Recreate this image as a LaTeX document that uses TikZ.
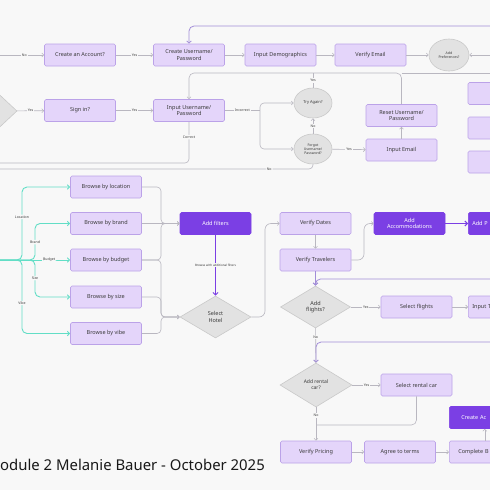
\documentclass[tikz,border=0pt]{standalone}
\usepackage{fontspec}
\setmainfont{Noto Sans}
\usetikzlibrary{arrows.meta,shapes.geometric}
\definecolor{bg}{HTML}{F8F8F8}
\definecolor{lbox}{HTML}{E4D5FA}
\definecolor{lboxb}{HTML}{BBA2E8}
\definecolor{dbox}{HTML}{7B3FE4}
\definecolor{gshape}{HTML}{E2E2E2}
\definecolor{gshapeb}{HTML}{C9C9C9}
\definecolor{conn}{HTML}{B9B7C0}
\definecolor{pconn}{HTML}{A28DD8}
\definecolor{tealc}{HTML}{62DEC6}
\definecolor{txt}{HTML}{3A3A3A}
\begin{document}
\begin{tikzpicture}[x=1pt,y=-1pt,
  lb/.style={draw=lboxb, fill=lbox, line width=0.6pt, rounded corners=1.5pt,
    minimum width=71pt, minimum height=22pt, inner sep=0pt,
    font=\fontsize{5.5}{6.5}\selectfont, text=txt, align=center},
  db/.style={lb, draw=dbox, fill=dbox, text=white},
  cutb/.style={anchor=west, inner xsep=#1, text width=71pt-2*#1, align=left, inner ysep=0pt},
  gd/.style={diamond, draw=gshapeb, fill=gshape, line width=0.6pt, inner sep=0pt,
    font=\fontsize{5.5}{6.5}\selectfont, text=txt, align=center},
  ge/.style={ellipse, draw=gshapeb, fill=gshape, line width=0.6pt, inner sep=0pt,
    minimum width=38pt, minimum height=30pt,
    font=\fontsize{3.5}{4.2}\selectfont, text=txt, align=center},
  lab/.style={fill=bg, font=\fontsize{3.5}{4}\selectfont, text=txt, inner sep=1pt},
  ar/.style={draw=conn, line width=0.6pt, -{Straight Barb[length=2pt,width=4pt]}},
  ln/.style={draw=conn, line width=0.6pt},
  par/.style={draw=pconn, line width=0.8pt, -{Straight Barb[length=2.2pt,width=4.5pt]}},
  dar/.style={draw=dbox, line width=1pt, -{Straight Barb[length=2.5pt,width=5pt]}},
  tar/.style={draw=tealc, line width=0.9pt, rounded corners=5pt, -{Straight Barb[length=2.2pt,width=4.5pt]}}
]
\useasboundingbox (0,0) rectangle (490,490);
\fill[bg] (0,0) rectangle (490,490);
\clip (0,0) rectangle (490,490);

% ---------- row 1
\node[lb] (acct) at (80,55) {Create an Account?};
\node[lb] (cuser) at (189,55) {Create Username/\\Password};
\node[lb] (demo) at (280.5,55) {Input Demographics};
\node[lb] (vemail) at (370.5,55) {Verify Email};
\node[ge] (pref) at (449,55) [minimum width=40pt, minimum height=32pt] {Add\\Preferences?};
\coordinate (in1) at (0,55);
\coordinate (in2) at (490,55);
\coordinate (top1) at (490,26);
\coordinate (topc) at (189,26);
\draw[ar] (in1) -- node[lab,pos=0.55]{No} (acct);
\draw[ar] (acct) -- node[lab]{Yes} (cuser);
\draw[ar] (cuser) -- (demo);
\draw[ar] (demo) -- (vemail);
\draw[ar] (vemail) -- (pref);
\draw[ar] (in2) -- (pref);
\draw[par, rounded corners=5pt] (top1) -- (topc) -- (cuser.north);

% ---------- row 2
\node[gd, minimum width=60pt, minimum height=56pt] (ldiam) at (-13,111) {};
\node[lb] (signin) at (80,110.5) {Sign in?};
\node[lb] (iuser) at (189,110.5) {Input Username/\\Password};
\node[ge, font=\fontsize{4}{4.5}\selectfont] (tryag) at (313,103) {Try Again?};
\node[ge] (forgot) at (313,149) {Forgot\\Username/\\Password?};
\node[lb] (iemail) at (401.5,150) {Input Email};
\node[lb] (reset) at (401.5,115.5) {Reset Username/\\Password};
\node[lb] (rb1) at (503.5,93.5) {};
\node[lb] (rb2) at (503.5,128) {};
\node[lb] (rb3) at (503.5,162) {};
\coordinate (inc) at (260,110.5);
\coordinate (rsc) at (401.5,73);
\coordinate (iuc) at (189,73);
\coordinate (tac) at (313,73);
\coordinate (rline) at (490,73);
\coordinate (cor1) at (189,163);
\coordinate (cor2) at (0,163);
\coordinate (no1) at (313,169);
\coordinate (no2) at (0,169);
\draw[ar] (ldiam) -- node[lab]{Yes} (signin);
\draw[ar] (signin) -- node[lab]{Yes} (iuser);
\draw[ln] (iuser) -- node[lab,pos=0.5]{Incorrect} (inc);
\draw[ar, rounded corners=4pt] (inc) |- (tryag.west);
\draw[ar, rounded corners=4pt] (inc) |- (forgot.west);
\draw[ar] (forgot) -- node[lab]{No} (tryag);
\draw[ln] (tryag.north) -- node[lab]{Yes} (tac);
\draw[ar, rounded corners=5pt] (reset.north) -- (rsc) -- (iuc) -- (iuser.north);
\draw[ln] (rsc) -- (rline);
\draw[ar] (forgot) -- node[lab]{Yes} (iemail);
\draw[ar] (iemail) -- (reset);
\draw[ln, rounded corners=4pt] (forgot.south) -- (no1) -- node[lab,pos=0.14]{No} (no2);
\draw[ln, rounded corners=4pt] (iuser.south) -- node[lab,pos=0.37]{Correct} (cor1) -- (cor2);

% ---------- browse
\node[lb] (bloc) at (106,187) {Browse by location};
\node[lb] (bbrand) at (106,223.5) {Browse by brand};
\node[lb] (bbud) at (106,260) {Browse by budget};
\node[lb] (bsize) at (106,297) {Browse by size};
\node[lb] (bvibe) at (106,333.5) {Browse by vibe};
\coordinate (tin) at (0,260);
\coordinate (t1) at (22,260);
\coordinate (t1a) at (22,187);
\coordinate (t1b) at (22,333.5);
\coordinate (t2) at (35,260);
\coordinate (t2a) at (35,223.5);
\coordinate (t2b) at (35,297);
\draw[tar] (tin) -- (t1) -- node[lab,pos=0.59]{Location} (t1a) -- (bloc.west);
\draw[tar] (tin) -- (t1) -- node[lab,pos=0.585]{Vibe} (t1b) -- (bvibe.west);
\draw[tar] (tin) -- (t2) -- node[lab,pos=0.49]{Brand} (t2a) -- (bbrand.west);
\draw[tar] (tin) -- (t2) -- node[lab,pos=0.49]{Size} (t2b) -- (bsize.west);
\draw[tar] (tin) -- node[lab,pos=0.7]{Budget} (bbud.west);

\node[db] (filters) at (215.5,223.5) {Add filters};
\node[gd, minimum width=71pt, minimum height=42pt] (hotel) at (215.5,317) {Select\\Hotel};
\coordinate (m1) at (161,187);
\coordinate (m2) at (161,223.5);
\coordinate (m3) at (161,260);
\coordinate (m4) at (161,297);
\coordinate (m5) at (161,317);
\coordinate (m6) at (161,333.5);
\draw[ar, rounded corners=4pt] (bloc.east) -- (m1) -- (m2) -- (filters.west);
\draw[ar] (bbrand) -- (filters);
\draw[ar, rounded corners=4pt] (bbud.east) -- (m3) -- (m2) -- (filters.west);
\draw[ar, rounded corners=4pt] (bbud.east) -- (m3) -- (m5) -- (hotel.west);
\draw[ar, rounded corners=4pt] (bsize.east) -- (m4) -- (m5) -- (hotel.west);
\draw[ar, rounded corners=4pt] (bvibe.east) -- (m6) -- (m5) -- (hotel.west);
\draw[dar] (filters) -- node[lab, font=\fontsize{3}{3.5}\selectfont]{Browse with additional filters} (hotel);

\node[lb] (vdates) at (315.5,223.5) {Verify Dates};
\node[lb] (vtrav) at (315.5,260) {Verify Travelers};
\node[db] (accom) at (409.5,223.5) {Add\\Accommodations};
\node[db, cutb=4pt] (addp) at (468,223.5) {Add P};
\coordinate (h1) at (265,317);
\coordinate (h2) at (265,223.5);
\coordinate (v1) at (364,260);
\coordinate (v2) at (364,223.5);
\draw[ar, rounded corners=6pt] (hotel.east) -- (h1) -- (h2) -- (vdates.west);
\draw[ar] (vdates) -- (vtrav);
\draw[ar, rounded corners=6pt] (vtrav.east) -- (v1) -- (v2) -- (accom.west);
\draw[dar] (accom) -- (addp);

% ---------- flights
\node[gd, minimum width=70pt, minimum height=42pt] (flights) at (315.5,307) {Add\\flights?};
\node[lb] (selfl) at (416.5,307) {Select flights};
\node[lb, cutb=4pt] (inputt) at (468,307) {Input T};
\coordinate (lane1) at (490,279);
\coordinate (lane1c) at (315.5,279);
\draw[par] (vtrav) -- (flights);
\draw[par, rounded corners=5pt] (lane1) -- (lane1c) -- (flights.north);
\draw[ar] (flights) -- node[lab]{Yes} (selfl);
\draw[ar] (selfl) -- (inputt);

% ---------- rental
\node[gd, minimum width=72pt, minimum height=44pt, font=\fontsize{5}{6}\selectfont] (rental) at (316,385) {Add rental\\car?};
\node[lb] (selrent) at (416.5,385) {Select rental car};
\coordinate (lane2) at (490,342);
\coordinate (lane2c) at (316,342);
\coordinate (sr1) at (416.5,425);
\coordinate (sr2) at (316,425);
\draw[ar] (flights) -- node[lab,pos=0.26]{No} (rental);
\draw[par, rounded corners=5pt] (lane2) -- (lane2c) -- (rental.north);
\draw[ar] (rental) -- node[lab]{Yes} (selrent);
\draw[ln, rounded corners=5pt] (selrent.south) -- (sr1) -- (sr2);

% ---------- bottom row
\node[lb] (vprice) at (316,452) {Verify Pricing};
\node[lb] (agree) at (400,452) {Agree to terms};
\node[lb, cutb=9pt] (complete) at (449,452) {Complete B};
\node[db, cutb=12pt] (createac) at (449,417.5) {Create Ac};
\draw[ar] (rental) -- node[lab,pos=0.24]{No} (vprice);
\draw[ar] (vprice) -- (agree);
\draw[ar] (agree) -- (complete);
\draw[ar] (complete) -- (createac);

% ---------- title
\node[anchor=base west, inner sep=0pt, text=black!90, font=\fontsize{14.9}{15}\selectfont] (title) at (0,470) {odule 2 Melanie Bauer - October 2025};
\end{tikzpicture}
\end{document}
